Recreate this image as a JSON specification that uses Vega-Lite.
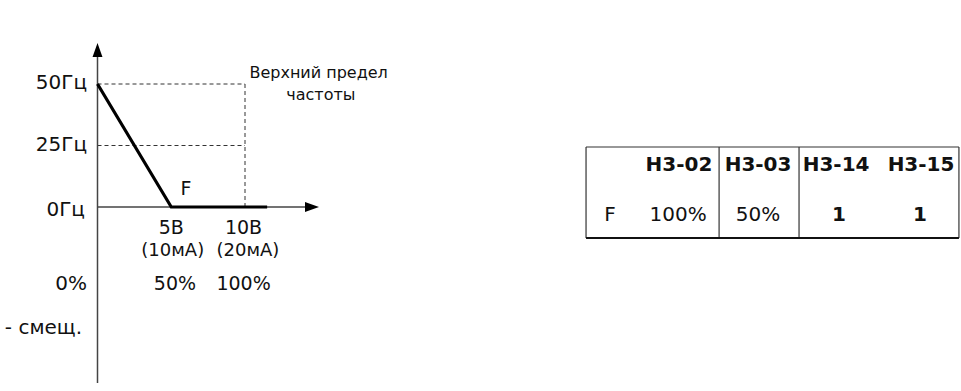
{
  "$schema": "https://vega.github.io/schema/vega-lite/v6.json",
  "width": 961,
  "height": 391,
  "autosize": {"type": "none"},
  "padding": 0,
  "background": "white",
  "config": {"view": {"stroke": null}, "text": {"font": "DejaVu Sans", "color": "#111"}},
  "datasets": {
    "axes": [
      {"v": 0, "f": 0, "v2": 14.1, "f2": 0, "part": "x"},
      {"v": 0, "f": -71.5, "v2": 0, "f2": 61.0, "part": "y"}
    ],
    "dashes": [
      {"v": 0, "f": 50, "v2": 10, "f2": 50},
      {"v": 0, "f": 25, "v2": 10, "f2": 25},
      {"v": 10, "f": 0, "v2": 10, "f2": 50}
    ],
    "curve": [
      {"v": 0, "f": 50},
      {"v": 5, "f": 0},
      {"v": 11.5, "f": 0}
    ],
    "arrowX": [{"v": 14.54, "f": 0}],
    "arrowY": [{"v": 0, "f": 63.8}],
    "leftLabels": [
      {"v": -0.71, "f": 50.4, "label": "50Гц"},
      {"v": -0.71, "f": 25.2, "label": "25Гц"},
      {"v": -0.85, "f": -1.2, "label": "0Гц"},
      {"v": -0.71, "f": -31.3, "label": "0%"},
      {"v": -1.05, "f": -49.2, "label": "- смещ."}
    ],
    "unitLabels": [
      {"v": 5.0, "f": -8.6, "label": "5В"},
      {"v": 9.9, "f": -8.6, "label": "10В"},
      {"v": 5.25, "f": -31.3, "label": "50%"},
      {"v": 9.9, "f": -31.3, "label": "100%"},
      {"v": 6.0, "f": 7.3, "label": "F"}
    ],
    "currentLabels": [
      {"v": 5.1, "f": -17.9, "label": "(10мА)"},
      {"v": 10.2, "f": -17.9, "label": "(20мА)"}
    ],
    "noteLabels": [
      {"v": 10.3, "f": 54.5, "label": "Верхний предел"},
      {"v": 12.8, "f": 45.5, "label": "частоты"}
    ],
    "tableLines": [
      {"v": 33.12, "f": 24.39, "v2": 33.12, "f2": -12.6},
      {"v": 42.14, "f": 24.39, "v2": 42.14, "f2": -12.6},
      {"v": 47.56, "f": 24.39, "v2": 47.56, "f2": -12.6},
      {"v": 58.4, "f": 24.39, "v2": 58.4, "f2": -12.6},
      {"v": 33.12, "f": 24.39, "v2": 58.4, "f2": 24.39}
    ],
    "tableBottom": [
      {"v": 33.12, "f": -12.6, "v2": 58.4, "f2": -12.6}
    ],
    "tableHeader": [
      {"v": 39.42, "f": 17.1, "label": "H3-02"},
      {"v": 44.78, "f": 17.1, "label": "H3-03"},
      {"v": 50.07, "f": 17.1, "label": "H3-14"},
      {"v": 55.83, "f": 17.1, "label": "H3-15"}
    ],
    "tableRegular": [
      {"v": 34.75, "f": -3.25, "label": "F"},
      {"v": 39.36, "f": -3.25, "label": "100%"},
      {"v": 44.78, "f": -3.25, "label": "50%"}
    ],
    "tableBold": [
      {"v": 50.27, "f": -3.25, "label": "1"},
      {"v": 55.76, "f": -3.25, "label": "1"}
    ]
  },
  "encoding": {
    "x": {"field": "v", "type": "quantitative", "scale": {"domain": [-6.61, 58.54], "nice": false, "zero": false}, "axis": null},
    "y": {"field": "f", "type": "quantitative", "scale": {"domain": [-74.8, 84.15], "nice": false, "zero": false}, "axis": null}
  },
  "layer": [
    {
      "data": {"name": "dashes"},
      "mark": {"type": "rule", "color": "#333", "strokeWidth": 1, "strokeDash": [4, 3]},
      "encoding": {"x2": {"field": "v2"}, "y2": {"field": "f2"}}
    },
    {
      "data": {"name": "axes"},
      "mark": {"type": "rule", "color": "#444", "strokeWidth": 1.5},
      "encoding": {"x2": {"field": "v2"}, "y2": {"field": "f2"}}
    },
    {
      "data": {"name": "curve"},
      "mark": {"type": "line", "color": "#000", "strokeWidth": 3.2},
      "encoding": {}
    },
    {
      "data": {"name": "arrowX"},
      "mark": {"type": "point", "filled": true, "color": "#000", "opacity": 1, "size": 196, "shape": "M -1 -0.71 L 1 0 L -1 0.71 Z"},
      "encoding": {}
    },
    {
      "data": {"name": "arrowY"},
      "mark": {"type": "point", "filled": true, "color": "#000", "opacity": 1, "size": 196, "shape": "M -0.71 1 L 0 -1 L 0.71 1 Z"},
      "encoding": {}
    },
    {
      "data": {"name": "leftLabels"},
      "mark": {"type": "text", "align": "right", "baseline": "middle", "fontSize": 20},
      "encoding": {"text": {"field": "label"}}
    },
    {
      "data": {"name": "unitLabels"},
      "mark": {"type": "text", "align": "center", "baseline": "middle", "fontSize": 19},
      "encoding": {"text": {"field": "label"}}
    },
    {
      "data": {"name": "currentLabels"},
      "mark": {"type": "text", "align": "center", "baseline": "middle", "fontSize": 18},
      "encoding": {"text": {"field": "label"}}
    },
    {
      "data": {"name": "noteLabels"},
      "mark": {"type": "text", "align": "left", "baseline": "middle", "fontSize": 16},
      "encoding": {"text": {"field": "label"}}
    },
    {
      "data": {"name": "tableLines"},
      "mark": {"type": "rule", "color": "#333", "strokeWidth": 1.2},
      "encoding": {"x2": {"field": "v2"}, "y2": {"field": "f2"}}
    },
    {
      "data": {"name": "tableBottom"},
      "mark": {"type": "rule", "color": "#111", "strokeWidth": 2.2},
      "encoding": {"x2": {"field": "v2"}, "y2": {"field": "f2"}}
    },
    {
      "data": {"name": "tableHeader"},
      "mark": {"type": "text", "align": "center", "baseline": "middle", "fontSize": 20, "fontWeight": "bold"},
      "encoding": {"text": {"field": "label"}}
    },
    {
      "data": {"name": "tableRegular"},
      "mark": {"type": "text", "align": "center", "baseline": "middle", "fontSize": 20},
      "encoding": {"text": {"field": "label"}}
    },
    {
      "data": {"name": "tableBold"},
      "mark": {"type": "text", "align": "center", "baseline": "middle", "fontSize": 20, "fontWeight": "bold"},
      "encoding": {"text": {"field": "label"}}
    }
  ]
}
